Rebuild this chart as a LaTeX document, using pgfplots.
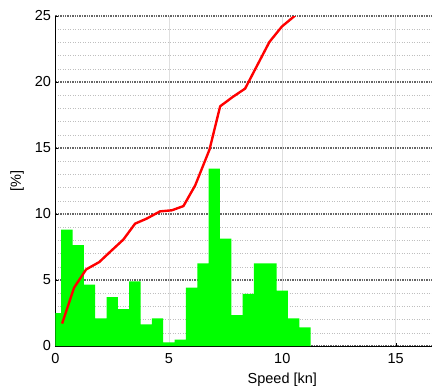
\documentclass[border=0pt]{standalone}
\usepackage{pgfplots}
\pgfplotsset{compat=1.18}
\usepackage{fontspec}
\setmainfont{Liberation Sans}

% speed histogram (bin width 0.5 kn)
\pgfplotstableread{
x y
0.0 2.5
0.5 8.82
1.0 7.65
1.5 4.65
2.0 2.1
2.5 3.71
3.0 2.8
3.5 4.9
4.0 1.64
4.5 2.1
5.0 0.28
5.5 0.48
6.0 4.42
6.5 6.26
7.0 13.44
7.5 8.13
8.0 2.33
8.5 3.94
9.0 6.26
9.5 6.26
10.0 4.2
10.5 2.1
11.0 1.42
}\histdata

% red curve
\pgfplotstableread{
x y
0.29 1.7
0.82 4.42
1.35 5.8
1.93 6.36
2.45 7.2
2.99 8.06
3.51 9.27
4.02 9.65
4.61 10.2
5.13 10.28
5.64 10.6
6.16 12.17
6.79 14.88
7.26 18.16
7.80 18.85
8.36 19.5
9.43 23.03
9.98 24.2
10.54 25.0
11.0 25.8
}\curvedata

\begin{document}
\begin{tikzpicture}
\useasboundingbox (-55.5bp,-46bp) rectangle (376.5bp,346bp);
\begin{axis}[
  scale only axis,
  width=376.5bp, height=330bp,
  xmin=0, xmax=16.6, ymin=0, ymax=25,
  axis x line*=bottom, axis y line*=left,
  axis line style={black, line width=0.8pt, -},
  xtick={0,5,10,15}, ytick={0,5,10,15,20,25},
  minor y tick num=4,
  minor tick length=0pt,
  major tick length=3bp,
  tick align=inside,
  tick style={black},
  grid=both,
  major x grid style={gray!25, line width=0.6pt},
  minor x grid style={draw=none},
  major y grid style={black!60, line width=1.4pt, densely dotted},
  minor y grid style={gray!50, line width=0.5pt, dotted},
  tick label style={font=\fontsize{14.5bp}{17bp}\selectfont},
  label style={font=\fontsize{14.5bp}{17bp}\selectfont},
  /pgf/number format/assume math mode=true,
  xticklabel style={yshift=-4bp},
  yticklabel style={xshift=-1bp},
  xlabel={Speed [kn]},
  xlabel style={at={(axis cs:10,0)}, anchor=north, yshift=-23bp},
  ylabel={[\%]},
  ylabel style={at={(rel axis cs:0,0.5)}, anchor=south, yshift=28bp},
]
\addplot[ybar, bar width=0.5, fill={rgb,255:red,0;green,255;blue,0}, draw=none] table[x=x,y=y] {\histdata};
\addplot[red, line width=2.4pt, line join=round] table[x=x,y=y] {\curvedata};
\end{axis}
\end{tikzpicture}
\end{document}
